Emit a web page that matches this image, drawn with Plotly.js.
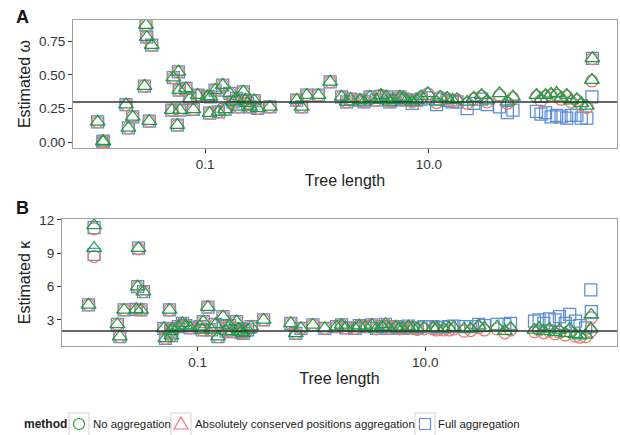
<!DOCTYPE html>
<html>
<head>
<meta charset="utf-8">
<script src="https://cdn.plot.ly/plotly-3.0.1.min.js"></script>
<style>html,body{margin:0;padding:0;background:#fff;}#chart{width:620px;height:435px;}</style>
</head>
<body>
<div id="chart"></div>
<script>
// Tree length per dataset
const treeLength = [
  0.011, 0.0123, 0.0123, 0.0197, 0.0207, 0.0226, 0.0288, 0.0297, 0.0302, 0.0334, 0.0318,
  0.0505, 0.0521, 0.0566, 0.0578, 0.0598, 0.0589, 0.0676, 0.0735, 0.0787, 0.0861,
  0.105, 0.110, 0.123, 0.144, 0.112, 0.167, 0.220, 0.132, 0.151, 0.200, 0.252, 0.295, 0.380,
  0.229, 0.191, 0.178, 0.240, 0.275,
  0.659, 0.729, 0.809, 1.03, 1.31, 1.66, 1.84, 2.42, 2.97, 3.39, 4.17, 4.79, 5.50, 6.31, 7.76,
  9.77, 12.6, 16.2, 21.9, 29.5, 42.7, 56.2,
  91.2, 100, 110, 123, 138, 151, 170, 186, 209, 229, 257, 288, 285,
  2.0, 2.63, 3.72, 4.47, 5.89, 7.08, 8.51, 11.7, 14.5, 17.8, 25.1, 33.1, 50.1
];
// Estimated omega
const omegaNoAgg = [
  0.153, 0.004, 0.01, 0.28, 0.108, 0.19, 0.417, 0.869, 0.78, 0.72, 0.158,
  0.239, 0.479, 0.128, 0.523, 0.239, 0.387, 0.40, 0.326, 0.244, 0.35,
  0.34, 0.217, 0.387, 0.424, 0.338, 0.363, 0.375, 0.227, 0.244, 0.264, 0.264, 0.252, 0.264,
  0.313, 0.326, 0.30, 0.29, 0.31,
  0.313, 0.264, 0.35, 0.35, 0.449, 0.338, 0.301, 0.313, 0.338, 0.313, 0.338, 0.313, 0.338, 0.313, 0.313,
  0.363, 0.338, 0.313, 0.30, 0.35, 0.363, 0.338,
  0.35, 0.32, 0.35, 0.36, 0.365, 0.33, 0.35, 0.31, 0.32, 0.29, 0.27, 0.622, 0.461,
  0.32, 0.30, 0.35, 0.30, 0.33, 0.30, 0.34, 0.30, 0.33, 0.32, 0.33, 0.31, 0.30
];
const omegaAbs = [
  0.153, 0.004, 0.01, 0.28, 0.108, 0.19, 0.417, 0.869, 0.78, 0.72, 0.158,
  0.239, 0.479, 0.128, 0.523, 0.239, 0.387, 0.40, 0.326, 0.244, 0.35,
  0.34, 0.217, 0.387, 0.424, 0.338, 0.363, 0.375, 0.227, 0.244, 0.264, 0.264, 0.252, 0.264,
  0.313, 0.326, 0.30, 0.29, 0.31,
  0.313, 0.264, 0.35, 0.35, 0.449, 0.338, 0.301, 0.313, 0.338, 0.313, 0.338, 0.313, 0.338, 0.313, 0.313,
  0.36, 0.335, 0.31, 0.29, 0.34, 0.35, 0.33,
  0.34, 0.31, 0.34, 0.35, 0.35, 0.32, 0.34, 0.30, 0.31, 0.28, 0.26, 0.62, 0.455,
  0.32, 0.30, 0.35, 0.30, 0.33, 0.30, 0.335, 0.295, 0.325, 0.315, 0.32, 0.30, 0.29
];
const omegaFull = [
  0.153, 0.004, 0.01, 0.28, 0.108, 0.19, 0.417, 0.869, 0.78, 0.72, 0.158,
  0.239, 0.479, 0.128, 0.523, 0.239, 0.387, 0.40, 0.326, 0.244, 0.35,
  0.34, 0.217, 0.387, 0.424, 0.338, 0.363, 0.375, 0.227, 0.244, 0.264, 0.264, 0.252, 0.264,
  0.313, 0.326, 0.30, 0.29, 0.31,
  0.313, 0.264, 0.35, 0.35, 0.449, 0.338, 0.301, 0.313, 0.338, 0.313, 0.338, 0.313, 0.338, 0.313, 0.313,
  0.33, 0.32, 0.30, 0.25, 0.32, 0.264, 0.239,
  0.23, 0.21, 0.22, 0.19, 0.20, 0.19, 0.18, 0.20, 0.20, 0.18, 0.18, 0.622, 0.338,
  0.32, 0.30, 0.34, 0.30, 0.32, 0.29, 0.32, 0.28, 0.31, 0.30, 0.29, 0.28, 0.22
];
// Estimated kappa
const kappaNoAgg = [
  4.35, 11.5, 9.45, 2.6, 1.5, 3.9, 3.96, 6.0, 9.45, 5.55, 3.9,
  2.25, 1.35, 3.9, 2.0, 2.2, 1.6, 2.4, 2.7, 2.5, 2.3,
  2.4, 2.1, 4.15, 2.6, 2.85, 3.3, 2.85, 2.1, 1.5, 1.95, 1.8, 2.4, 3.0,
  2.2, 2.5, 2.0, 1.9, 2.1,
  2.7, 1.8, 2.25, 2.55, 2.25, 2.4, 2.55, 2.25, 2.4, 2.55, 2.4, 2.25, 2.4, 2.25, 2.3,
  2.3, 2.25, 2.3, 2.2, 2.5, 2.4, 2.3,
  2.1, 2.3, 2.0, 2.2, 1.9, 2.1, 1.8, 2.2, 1.7, 1.6, 1.65, 3.45, 2.2,
  2.3, 2.5, 2.2, 2.6, 2.2, 2.4, 2.2, 2.3, 2.2, 2.35, 2.2, 2.3, 2.0
];
const kappaAbs = [
  4.35, 11.2, 8.7, 2.6, 1.5, 3.9, 3.96, 6.0, 9.4, 5.55, 3.9,
  2.25, 1.35, 3.9, 2.0, 2.2, 1.6, 2.4, 2.7, 2.5, 2.3,
  2.4, 2.1, 4.15, 2.6, 2.85, 3.3, 2.85, 2.1, 1.5, 1.95, 1.8, 2.4, 3.0,
  2.2, 2.5, 2.0, 1.9, 2.1,
  2.7, 1.8, 2.25, 2.55, 2.25, 2.4, 2.55, 2.25, 2.4, 2.55, 2.4, 2.25, 2.4, 2.25, 2.3,
  2.2, 2.1, 2.1, 2.0, 2.3, 2.2, 2.1,
  1.95, 2.1, 1.85, 2.0, 1.75, 1.9, 1.65, 2.0, 1.55, 1.45, 1.5, 3.2, 2.0,
  2.3, 2.5, 2.2, 2.6, 2.2, 2.35, 2.15, 2.2, 2.1, 2.2, 2.05, 2.1, 1.85
];
const kappaFull = [
  4.35, 11.3, 8.9, 2.6, 1.5, 3.9, 3.96, 6.0, 9.45, 5.55, 3.9,
  2.25, 1.35, 3.9, 2.0, 2.2, 1.6, 2.4, 2.7, 2.5, 2.3,
  2.4, 2.1, 4.15, 2.6, 2.85, 3.3, 2.85, 2.1, 1.5, 1.95, 1.8, 2.4, 3.0,
  2.2, 2.5, 2.0, 1.9, 2.1,
  2.7, 1.8, 2.25, 2.55, 2.25, 2.4, 2.55, 2.25, 2.4, 2.55, 2.4, 2.25, 2.4, 2.25, 2.3,
  2.4, 2.3, 2.4, 2.4, 2.6, 2.6, 2.7,
  2.9, 3.0, 2.7, 3.1, 3.0, 3.3, 2.7, 3.5, 2.9, 2.5, 2.3, 3.75, 5.7,
  2.3, 2.5, 2.25, 2.6, 2.3, 2.45, 2.3, 2.4, 2.35, 2.45, 2.4, 2.5, 2.6
];
const methodNames = ['No aggregation', 'Absolutely conserved positions aggregation', 'Full aggregation'];
const legendTitle = 'method';
const refOmega = 0.3, refKappa = 2;

const cGreen = '#17a04c', cRed = '#f2766c', cBlue = '#5b8ed6';
const lw = 1.25;
function tr(y, xa, ya, sym, col, size) {
  return {type: 'scatter', mode: 'markers', x: treeLength, y: y, xaxis: xa, yaxis: ya,
    showlegend: false, hoverinfo: 'skip',
    marker: {symbol: sym, size: size, color: col, line: {width: lw, color: col}}};
}
const data = [
  tr(omegaFull, 'x', 'y', 'square-open', cBlue, 12),
  tr(omegaAbs, 'x', 'y', 'circle-open', cRed, 12),
  tr(omegaNoAgg, 'x', 'y', 'triangle-up-open', cGreen, 13),
  tr(kappaFull, 'x2', 'y2', 'square-open', cBlue, 12),
  tr(kappaAbs, 'x2', 'y2', 'circle-open', cRed, 12),
  tr(kappaNoAgg, 'x2', 'y2', 'triangle-up-open', cGreen, 13),
];

const fam = 'Liberation Sans, Arial, sans-serif';
const axCommon = {
  showgrid: false, zeroline: false, showline: true, mirror: true,
  linecolor: '#a0a0a0', linewidth: 1, ticks: 'outside', ticklen: 4, tickcolor: '#333',
  tickfont: {family: fam, size: 13.5, color: '#333'}
};
const titleFont = {family: fam, size: 16, color: '#222'};
const xTickVals = [0.1, 10], xTickText = ['0.1', '10.0'];

// hand-built legend (paper coordinates; plot area spans px 62..617, y 20..346)
const L = 62, W = 555, B = 346, H = 326;
const px = v => (v - L) / W;
const py = v => (B - v) / H;
const legY = 424;
const keyX = [79, 181, 425];
const textX = [91, 193, 436];
const shapes = [
  {type: 'line', xref: 'x domain', yref: 'y', x0: 0, x1: 1, y0: refOmega, y1: refOmega,
   line: {color: '#333', width: 1.5}, layer: 'above'},
  {type: 'line', xref: 'x2 domain', yref: 'y2', x0: 0, x1: 1, y0: refKappa, y1: refKappa,
   line: {color: '#333', width: 1.5}, layer: 'above'}
];
const legCol = [cGreen, cRed, cBlue];
keyX.forEach((kx, i) => {
  shapes.push({type: 'rect', xref: 'paper', yref: 'paper', xsizemode: 'pixel', ysizemode: 'pixel',
    xanchor: px(kx), yanchor: py(legY), x0: -10, x1: 10, y0: -12, y1: 11,
    line: {color: '#d0d0d0', width: 1}, fillcolor: 'rgba(0,0,0,0)'});
  const common = {xref: 'paper', yref: 'paper', xsizemode: 'pixel', ysizemode: 'pixel',
    xanchor: px(kx), yanchor: py(legY), line: {color: legCol[i], width: 1.2}, fillcolor: 'rgba(0,0,0,0)'};
  if (i === 0) shapes.push(Object.assign({type: 'circle', x0: -5.5, x1: 5.5, y0: -5.5, y1: 5.5}, common));
  if (i === 1) shapes.push(Object.assign({type: 'path', path: 'M -7 -5 L 7 -5 L 0 7 Z'}, common));
  if (i === 2) shapes.push(Object.assign({type: 'rect', x0: -5.5, x1: 5.5, y0: -5.5, y1: 5.5}, common));
});
const annotations = [
  {text: '<b>A</b>', xref: 'paper', yref: 'paper', x: px(14), y: py(17.5), xanchor: 'left', yanchor: 'middle',
   showarrow: false, font: {family: fam, size: 18, color: '#111'}},
  {text: '<b>B</b>', xref: 'paper', yref: 'paper', x: px(14), y: py(208), xanchor: 'left', yanchor: 'middle',
   showarrow: false, font: {family: fam, size: 18, color: '#111'}},
  {text: '<b>' + legendTitle + '</b>', xref: 'paper', yref: 'paper', x: px(22), y: py(legY), xanchor: 'left', yanchor: 'middle',
   showarrow: false, font: {family: fam, size: 12, color: '#222'}}
];
methodNames.forEach((nm, i) => {
  annotations.push({text: nm, xref: 'paper', yref: 'paper', x: px(textX[i]), y: py(legY), xanchor: 'left', yanchor: 'middle',
    showarrow: false, font: {family: fam, size: 11.4, color: '#222'}});
});

const layout = {
  width: 620, height: 435,
  margin: {l: L, r: 3, t: 20, b: 89},
  paper_bgcolor: '#fff', plot_bgcolor: '#fff',
  font: {family: fam, color: '#222'},
  showlegend: false,
  xaxis: Object.assign({}, axCommon, {type: 'log', domain: [0.0198, 1], range: [-2.179, 2.679], anchor: 'y',
    tickvals: xTickVals, ticktext: xTickText,
    title: {text: 'Tree length', font: titleFont, standoff: 3}}),
  yaxis: Object.assign({}, axCommon, {domain: [0.607, 1], range: [-0.042, 0.906], anchor: 'x',
    tickvals: [0, 0.25, 0.5, 0.75], ticktext: ['0.00', '0.25', '0.50', '0.75'],
    title: {text: 'Estimated ω', font: titleFont, standoff: 4}}),
  xaxis2: Object.assign({}, axCommon, {type: 'log', domain: [0, 1], range: [-2.192, 2.685], anchor: 'y2',
    tickvals: xTickVals, ticktext: xTickText,
    title: {text: 'Tree length', font: titleFont, standoff: 3}}),
  yaxis2: Object.assign({}, axCommon, {domain: [0, 0.39], range: [0.66, 12.09], anchor: 'x2',
    tickvals: [3, 6, 9, 12], ticktext: ['3', '6', '9', '12'],
    title: {text: 'Estimated κ', font: titleFont, standoff: 4}}),
  shapes: shapes,
  annotations: annotations
};
Plotly.newPlot('chart', data, layout, {displayModeBar: false, staticPlot: true});
</script>
</body>
</html>
